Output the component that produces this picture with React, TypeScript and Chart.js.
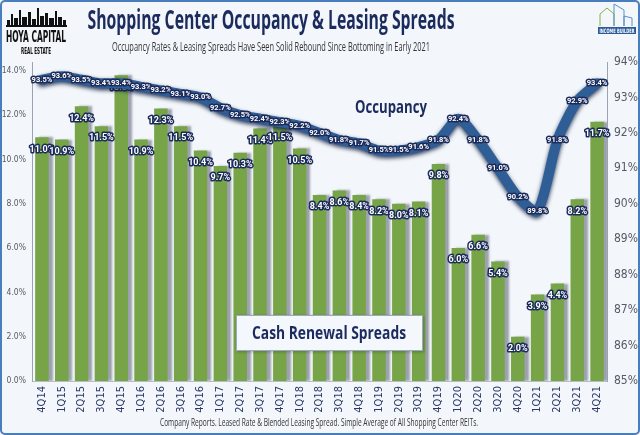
import React, { useEffect, useRef } from "react";
import { Chart, registerables } from "chart.js";
Chart.register(...registerables);

const quarters = ["4Q14","1Q15","2Q15","3Q15","4Q15","1Q16","2Q16","3Q16","4Q16","1Q17","2Q17","3Q17","4Q17","1Q18","2Q18","3Q18","4Q18","1Q19","2Q19","3Q19","4Q19","1Q20","2Q20","3Q20","4Q20","1Q21","2Q21","3Q21","4Q21"];
const cashRenewalSpreads = [11.0,10.9,12.4,11.5,13.8,10.9,12.3,11.5,10.4,9.7,10.3,11.4,11.5,10.5,8.4,8.6,8.4,8.2,8.0,8.1,9.8,6.0,6.6,5.4,2.0,3.9,4.4,8.2,11.7];
const occupancy = [93.5,93.6,93.5,93.4,93.4,93.3,93.2,93.1,93.0,92.7,92.5,92.4,92.3,92.2,92.0,91.8,91.7,91.5,91.5,91.6,91.8,92.4,91.8,91.0,90.2,89.8,91.8,92.9,93.4];
const leftTicks = [0,2,4,6,8,10,12,14];
const rightTicks = [85,86,87,88,89,90,91,92,93,94];

const TITLE = "Shopping Center Occupancy & Leasing Spreads";
const SUBTITLE = "Occupancy Rates & Leasing Spreads Have Seen Solid Rebound Since Bottoming in Early 2021";
const FOOTER = "Company Reports. Leased Rate & Blended Leasing Spread. Simple Average of All Shopping Center REITs.";

const NARROW = "'Liberation Sans Narrow', 'DejaVu Sans Condensed', 'Roboto', sans-serif";
const NAVY = "#1c2b5e";

function fitText(ctx: CanvasRenderingContext2D, text: string, cx: number, by: number, w: number, font: string, color: string) {
  ctx.save();
  ctx.font = font;
  const m = ctx.measureText(text).width;
  ctx.translate(cx, by);
  ctx.scale(w / m, 1);
  ctx.textAlign = "center";
  ctx.textBaseline = "alphabetic";
  ctx.fillStyle = color;
  ctx.fillText(text, 0, 0);
  ctx.restore();
}

function outlinedText(ctx: CanvasRenderingContext2D, text: string, x: number, y: number, font: string) {
  ctx.save();
  ctx.font = font;
  ctx.textAlign = "center";
  ctx.textBaseline = "middle";
  ctx.lineJoin = "round";
  ctx.strokeStyle = "#1a2a5a";
  ctx.lineWidth = 3;
  ctx.strokeText(text, x, y);
  ctx.fillStyle = "#ffffff";
  ctx.fillText(text, x, y);
  ctx.restore();
}

const decorPlugin = {
  id: "decor",
  beforeDraw(chart: any) {
    const ctx = chart.ctx as CanvasRenderingContext2D;
    ctx.save();
    ctx.fillStyle = "#f3f7fb";
    ctx.fillRect(0, 0, chart.width, chart.height);
    ctx.restore();
  },
  beforeDatasetDraw(chart: any, args: any) {
    const ctx = chart.ctx as CanvasRenderingContext2D;
    ctx.save();
    if (args.meta.type === "bar") {
      ctx.shadowColor = "rgba(70,75,95,0.5)";
      ctx.shadowOffsetX = 4;
      ctx.shadowOffsetY = 0;
      ctx.shadowBlur = 2;
    } else {
      ctx.shadowColor = "rgba(10,25,60,0.85)";
      ctx.shadowOffsetX = 0;
      ctx.shadowOffsetY = 2;
      ctx.shadowBlur = 4;
    }
  },
  afterDatasetDraw(chart: any, args: any) {
    const ctx = chart.ctx as CanvasRenderingContext2D;
    ctx.restore();
    const meta = args.meta;
    const ds = chart.data.datasets[args.index];
    if (meta.type === "bar") {
      meta.data.forEach((el: any, i: number) => {
        outlinedText(ctx, ds.data[i].toFixed(1) + "%", el.x, el.y + 12, "bold 9px Roboto");
      });
    } else {
      meta.data.forEach((el: any, i: number) => {
        outlinedText(ctx, ds.data[i].toFixed(1) + "%", el.x, el.y, "bold 7.5px Roboto");
      });
    }
  },
  afterDraw(chart: any) {
    const ctx = chart.ctx as CanvasRenderingContext2D;
    const W = chart.width, H = chart.height;
    fitText(ctx, TITLE, 271, 29, 367, "bold 26px 'Open Sans', sans-serif", NAVY);
    fitText(ctx, SUBTITLE, 271, 51, 318, "13px 'Open Sans', sans-serif", "#333333");
    fitText(ctx, FOOTER, 319, 426, 318, "11px 'Open Sans', sans-serif", "#333333");

    // Hoya Capital logo
    ctx.save();
    ctx.fillStyle = "#111111";
    const sky = [[7,20,3,6],[11,14,2,12],[14,18,4,8],[19,10,2,16],[22,17,5,9],[28,12,3,14],[32,19,4,7],[37,8,2,18],[40,16,4,10],[45,13,3,13],[49,18,5,8],[55,11,2,15],[58,17,4,9],[63,20,3,6]];
    sky.forEach(([x, y, w, h]) => ctx.fillRect(x, y, w, h));
    ctx.fillRect(6, 25, 61, 2);
    ctx.restore();
    fitText(ctx, "HOYA CAPITAL", 36, 42, 60, "bold 16px " + NARROW, "#111111");
    fitText(ctx, "REAL ESTATE", 36, 54, 30, "bold 8px " + NARROW, "#111111");

    // Income builder logo
    ctx.save();
    ctx.strokeStyle = "#7fb24a";
    ctx.lineWidth = 1;
    ctx.beginPath();
    ctx.moveTo(600, 26); ctx.lineTo(600, 14); ctx.lineTo(607, 8); ctx.lineTo(614, 14); ctx.lineTo(614, 26);
    ctx.stroke();
    ctx.strokeStyle = "#5b8fc9";
    ctx.beginPath();
    ctx.moveTo(614, 26); ctx.lineTo(614, 4); ctx.lineTo(624, 10); ctx.lineTo(624, 26);
    ctx.moveTo(624, 26); ctx.lineTo(624, 16); ctx.lineTo(632, 18); ctx.lineTo(632, 26);
    ctx.stroke();
    ctx.fillStyle = "#2b5a9a";
    ctx.fillRect(598, 27, 38, 7);
    ctx.restore();
    fitText(ctx, "INCOME BUILDER", 617, 33, 35, "bold 6px " + NARROW, "#ffffff");

    fitText(ctx, "Occupancy", 391, 113, 72, "bold 18px 'Open Sans', sans-serif", NAVY);

    ctx.save();
    ctx.shadowColor = "rgba(0,0,0,0.25)";
    ctx.shadowBlur = 3;
    ctx.shadowOffsetX = 1;
    ctx.shadowOffsetY = 1;
    ctx.fillStyle = "#f4f7fb";
    ctx.fillRect(236, 315, 187, 36);
    ctx.restore();
    ctx.save();
    ctx.strokeStyle = "#9aa8c0";
    ctx.lineWidth = 1;
    ctx.strokeRect(236.5, 315.5, 186, 35);
    ctx.restore();
    fitText(ctx, "Cash Renewal Spreads", 329, 339, 154, "bold 18px 'Open Sans', sans-serif", NAVY);

    ctx.save();
    ctx.strokeStyle = "#4a7dbb";
    ctx.lineWidth = 2;
    ctx.beginPath();
    (ctx as any).roundRect(1, 1, W - 2, H - 2, 4);
    ctx.stroke();
    ctx.restore();
  },
};

export default function App() {
  const ref = useRef<HTMLCanvasElement>(null);
  useEffect(() => {
    document.body.style.margin = "0";
    const chart = new Chart(ref.current as HTMLCanvasElement, {
      type: "bar",
      data: {
        labels: quarters,
        datasets: [
          {
            type: "line",
            label: "Occupancy",
            data: occupancy,
            yAxisID: "y1",
            borderColor: "#2f5d96",
            borderWidth: 10,
            tension: 0.25,
            pointRadius: 0,
            borderCapStyle: "round",
            borderJoinStyle: "round",
            order: 0,
          } as any,
          {
            type: "bar",
            label: "Cash Renewal Spreads",
            data: cashRenewalSpreads,
            yAxisID: "y",
            backgroundColor: "#77a447",
            barPercentage: 0.68,
            categoryPercentage: 1,
            order: 1,
          },
        ],
      },
      options: {
        animation: false,
        responsive: false,
        layout: { padding: { top: 62, left: 0, right: 0, bottom: 0 } },
        plugins: { legend: { display: false }, tooltip: { enabled: false } },
        scales: {
          x: {
            offset: true,
            grid: { display: false, drawTicks: false },
            border: { display: true, color: "#b5bcc8" },
            ticks: {
              maxRotation: 90,
              minRotation: 90,
              autoSkip: false,
              padding: 5,
              color: "#2b3a67",
              font: { size: 11, family: NARROW },
            },
            afterFit(scale: any) { scale.height = 54; },
          },
          y: {
            position: "left",
            min: 0,
            max: 14.4,
            grid: { display: false, drawTicks: true, tickLength: 4, color: "#8a93a3" },
            border: { display: true, color: "#9aa3b3" },
            afterBuildTicks(scale: any) { scale.ticks = leftTicks.map((v) => ({ value: v })); },
            ticks: {
              padding: 2,
              color: "#555b66",
              font: { size: 8.5, family: NARROW },
              callback: (v: any) => Number(v).toFixed(1) + "%",
            },
            afterFit(scale: any) { scale.width = 32; },
          },
          y1: {
            position: "right",
            min: 85,
            max: 94,
            grid: { display: false, drawTicks: true, tickLength: 4, color: "#8a93a3" },
            border: { display: true, color: "#9aa3b3" },
            afterBuildTicks(scale: any) { scale.ticks = rightTicks.map((v) => ({ value: v })); },
            ticks: {
              padding: 3,
              color: "#555b66",
              font: { size: 12, family: NARROW },
              callback: (v: any) => v + "%",
            },
            afterFit(scale: any) { scale.width = 33; },
          },
        },
      },
      plugins: [decorPlugin],
    });
    return () => chart.destroy();
  }, []);
  return (
    <div style={{ position: "absolute", left: 0, top: 0, width: 640, height: 435 }}>
      <canvas ref={ref} width={640} height={435} style={{ width: 640, height: 435, display: "block" }} />
    </div>
  );
}
